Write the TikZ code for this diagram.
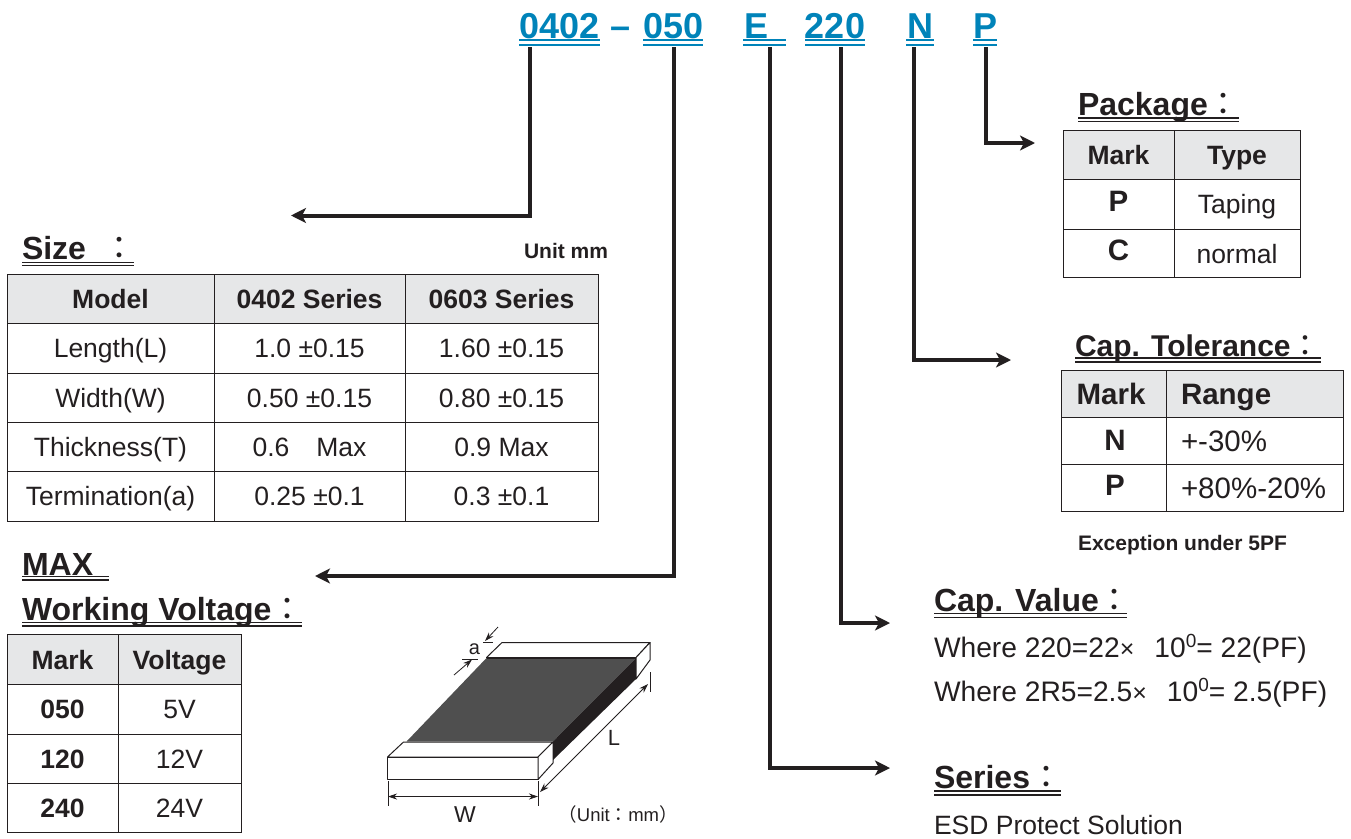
\documentclass[tikz,border=0pt]{standalone}
\usepackage{fontspec}
\setmainfont{Liberation Sans}
\newfontfamily\cjk{Noto Sans CJK TC}
\usetikzlibrary{arrows.meta}
\definecolor{ink}{HTML}{231F20}
\definecolor{pnblue}{HTML}{0083B9}
\definecolor{headgray}{HTML}{E6E7E8}
\definecolor{chipgray}{HTML}{4F4F4F}
\newcommand{\fcolon}{{\cjk\mdseries ：}}
\tikzset{
  x=1pt,y=-1pt,
  every node/.style={inner sep=0pt,outer sep=0pt,text=ink},
  cell/.style={anchor=center,text height=18.7pt,text depth=0pt,font=\fontsize{26.5}{26.5}\selectfont},
  bcell/.style={cell,font=\fontsize{26.5}{26.5}\selectfont\bfseries},
  bigb/.style={cell,font=\fontsize{29.5}{29.5}\selectfont\bfseries},
  bigr/.style={cell,anchor=west,font=\fontsize{29.5}{29.5}\selectfont},
  pn/.style={anchor=base,text=pnblue,font=\fontsize{36}{36}\selectfont\bfseries},
  pnline/.style={pnblue,line width=2pt},
  heading/.style={anchor=base west,font=\fontsize{32}{32}\selectfont\bfseries},
  dbl/.style={ink,line width=1.2pt},
  note/.style={anchor=base west,font=\fontsize{21}{21}\selectfont\bfseries},
  body/.style={anchor=base west,font=\fontsize{28.2}{28.2}\selectfont},
  tbl/.style={ink,line width=1pt},
  link/.style={ink,line width=4pt,-{Stealth[length=15pt,width=15pt,inset=4pt]}},
  dim/.style={ink,line width=.8pt},
  dimarrow/.style={ink,line width=.8pt,{Stealth[length=9pt,width=6pt]}-{Stealth[length=9pt,width=6pt]}},
  onearrow/.style={ink,line width=.8pt,-{Stealth[length=9pt,width=6pt]}},
  chipedge/.style={draw=ink,line width=1pt,line join=round},
}
\begin{document}
\begin{tikzpicture}
\useasboundingbox (0,0) rectangle (1351,838);

% part number
\node[pn] (p1) at (559.5,38) {0402};
\node[pn] (dash) at (621,38) {–};
\node[pn] (p2) at (673.5,38) {050};
\node[pn] (p3) at (756,38) {E};
\node[pn] (p4) at (835,38) {220};
\node[pn] (p5) at (920,38) {N};
\node[pn] (p6) at (985,38) {P};
\foreach \a/\b in {519/600,643/703,743/786,805/865,906/934,973/997}{
  \draw[pnline] (\a,40) -- (\b,40);
  \draw[pnline] (\a,44.5) -- (\b,44.5);
}
\coordinate (s1) at (530,47);
\coordinate (s2) at (674,47);
\coordinate (s3) at (770,47);
\coordinate (s4) at (841,47);
\coordinate (s5) at (914,47);
\coordinate (s6) at (986,47);
\coordinate (e1) at (291,215.5);
\coordinate (e2) at (315,576);
\coordinate (e3) at (890,768);
\coordinate (e4) at (890,623);
\coordinate (e5) at (1011,360);
\coordinate (e6) at (1035,143);
\draw[link] (s1) |- (e1);
\draw[link] (s2) |- (e2);
\draw[link] (s3) |- (e3);
\draw[link] (s4) |- (e4);
\draw[link] (s5) |- (e5);
\draw[link] (s6) |- (e6);

% Package
\node[heading] (hpack) at (1078,115) {Package\fcolon};
\draw[dbl] (1078,118) -- (1239,118) (1078,121.5) -- (1239,121.5);
\fill[headgray] (1063,130) rectangle (1300,179);
\draw[tbl] (1063,130) rectangle (1300,277);
\draw[tbl] (1063,179) -- (1300,179) (1063,229) -- (1300,229) (1174,130) -- (1174,277);
\node[bcell] (pk1) at (1118.5,155) {Mark};
\node[bcell] (pk2) at (1237,155) {Type};
\node[bigb] (pk3) at (1118.5,202) {P};
\node[cell] (pk4) at (1237,204.5) {Taping};
\node[bigb] (pk5) at (1118.5,251) {C};
\node[cell] (pk6) at (1237,254) {normal};

% Tolerance
\node[heading,font=\fontsize{30}{30}\selectfont\bfseries] (htol) at (1075,356) {Cap. Tolerance\fcolon};
\draw[dbl] (1075,358) -- (1321,358) (1075,362) -- (1321,362);
\fill[headgray] (1061,370) rectangle (1343,417);
\draw[tbl] (1061,370) rectangle (1343,511);
\draw[tbl] (1061,417) -- (1343,417) (1061,464) -- (1343,464) (1166,370) -- (1166,511);
\node[bigb] (tl1) at (1111,395) {Mark};
\node[bigb,anchor=west] (tl2) at (1181,395) {Range};
\node[bigb] (tl3) at (1115,441) {N};
\node[bigr] (tl4) at (1181,442) {+-30\%};
\node[bigb] (tl5) at (1115,486) {P};
\node[bigr] (tl6) at (1181,489) {+80\%-20\%};
\node[note] (exc) at (1078,550.5) {Exception under 5PF};

% Cap value
\node[heading] (hval) at (934,611) {Cap. Value\fcolon};
\draw[dbl] (934,613.5) -- (1127,613.5) (934,617.5) -- (1127,617.5);
\node[body] (v1) at (934,657.5) {Where 220=22{\fontsize{25}{25}\selectfont ×}\hspace{20pt}10\raisebox{10pt}{\fontsize{19}{19}\selectfont 0}= 22(PF)};
\node[body] (v2) at (934,701.5) {Where 2R5=2.5{\fontsize{25}{25}\selectfont ×}\hspace{20pt}10\raisebox{10pt}{\fontsize{19}{19}\selectfont 0}= 2.5(PF)};

% Series
\node[heading] (hser) at (934,788) {Series\fcolon};
\draw[dbl] (934,791) -- (1061,791) (934,795) -- (1061,795);
\node[body,font=\fontsize{26.5}{26.5}\selectfont] (esd) at (934,834.5) {ESD Protect Solution};

% Size
\node[heading] (hsize) at (22,259) {Size\hspace{17pt}\fcolon};
\draw[dbl] (22,262.3) -- (134,262.3) (22,265.8) -- (134,265.8);
\node[note] (unit) at (524,258.5) {Unit mm};
\fill[headgray] (7,274) rectangle (598,323);
\draw[tbl] (7,274) rectangle (598,521);
\draw[tbl] (7,323) -- (598,323) (7,373) -- (598,373) (7,422) -- (598,422) (7,471) -- (598,471)
  (214,274) -- (214,521) (405,274) -- (405,521);
\node[bcell] (sz01) at (110.5,299) {Model};
\node[bcell] (sz02) at (309.5,299) {0402 Series};
\node[bcell] (sz03) at (501.5,299) {0603 Series};
\node[cell] (sz11) at (110.5,348) {Length(L)};
\node[cell] (sz12) at (309.5,348) {1.0 ±0.15};
\node[cell] (sz13) at (501.5,348) {1.60 ±0.15};
\node[cell] (sz21) at (110.5,398) {Width(W)};
\node[cell] (sz22) at (309.5,398) {0.50 ±0.15};
\node[cell] (sz23) at (501.5,398) {0.80 ±0.15};
\node[cell] (sz31) at (110.5,447) {Thickness(T)};
\node[cell] (sz32) at (309.5,447) {0.6\hspace{27pt}Max};
\node[cell] (sz33) at (501.5,447) {0.9 Max};
\node[cell] (sz41) at (110.5,496) {Termination(a)};
\node[cell] (sz42) at (309.5,496) {0.25 ±0.1};
\node[cell] (sz43) at (501.5,496) {0.3 ±0.1};

% Voltage
\node[heading] (hmax) at (22,575) {MAX};
\draw[dbl] (22,576.5) -- (109,576.5) (22,580) -- (109,580);
\node[heading] (hwv) at (22,620) {Working Voltage\fcolon};
\draw[dbl] (22,622.5) -- (302,622.5) (22,626) -- (302,626);
\fill[headgray] (7,634) rectangle (241,684);
\draw[tbl] (7,634) rectangle (241,832);
\draw[tbl] (7,684) -- (241,684) (7,734) -- (241,734) (7,783) -- (241,783) (118,634) -- (118,832);
\node[bcell] (w01) at (62.5,660) {Mark};
\node[bcell] (w02) at (179.5,660) {Voltage};
\node[bcell] (w11) at (62.5,709) {050};
\node[cell] (w12) at (179.5,709) {5V};
\node[bcell] (w21) at (62.5,759) {120};
\node[cell] (w22) at (179.5,759) {12V};
\node[bcell] (w31) at (62.5,808) {240};
\node[cell] (w32) at (179.5,808) {24V};

% chip
\filldraw[chipedge,fill=white] (387.5,757) -- (403.5,742) -- (553,742) -- (538,757) -- cycle;
\filldraw[chipedge,fill=white] (387.5,757) rectangle (538,779.5);
\filldraw[chipedge,fill=white] (538,757) -- (553,742) -- (553,763) -- (538,779.5) -- cycle;
\fill[chipgray] (406.5,741.5) -- (486.5,658) -- (636,658) -- (553,741.5) -- cycle;
\draw[ink,line width=1pt] (486.5,658) -- (636,658);
\fill[ink] (553,741.5) -- (636,658) -- (636,679) -- (553,760) -- cycle;
\filldraw[chipedge,fill=white] (486.5,657.5) -- (502,642.5) -- (650,642.5) -- (636,657.5) -- cycle;
\filldraw[chipedge,fill=white] (636,657.5) -- (650,642.5) -- (650,660) -- (636,679) -- cycle;
% dimensions
\draw[dim] (388,781) -- (388,806) (538,781) -- (538,806);
\coordinate (wl) at (388,796.5);
\coordinate (wr) at (538,796.5);
\draw[dimarrow] (wl) -- (wr);
\coordinate (ll) at (540,792);
\coordinate (lr) at (648,684);
\draw[dimarrow] (ll) -- (lr);
\draw[dim] (650,672) -- (650,692);
\coordinate (a1s) at (498,627);
\coordinate (a1e) at (485,641);
\draw[onearrow] (a1s) -- (a1e);
\coordinate (a2s) at (454,675);
\coordinate (a2e) at (472,659.5);
\draw[onearrow] (a2s) -- (a2e);
\draw[dim] (483,642.7) -- (493,642.7) (462,659) -- (478,659);
\node[anchor=center,font=\fontsize{20}{20}\selectfont] (la) at (474.5,649) {a};
\node[anchor=center,font=\fontsize{23}{23}\selectfont] (lw) at (465,815) {W};
\node[anchor=center,font=\fontsize{22}{22}\selectfont] (ll2) at (614,738) {L};
\node[anchor=center,font=\fontsize{18.5}{18.5}\selectfont] (lu) at (618,814) {{\cjk （}Unit\fcolon mm{\cjk ）}};
\end{tikzpicture}
\end{document}
